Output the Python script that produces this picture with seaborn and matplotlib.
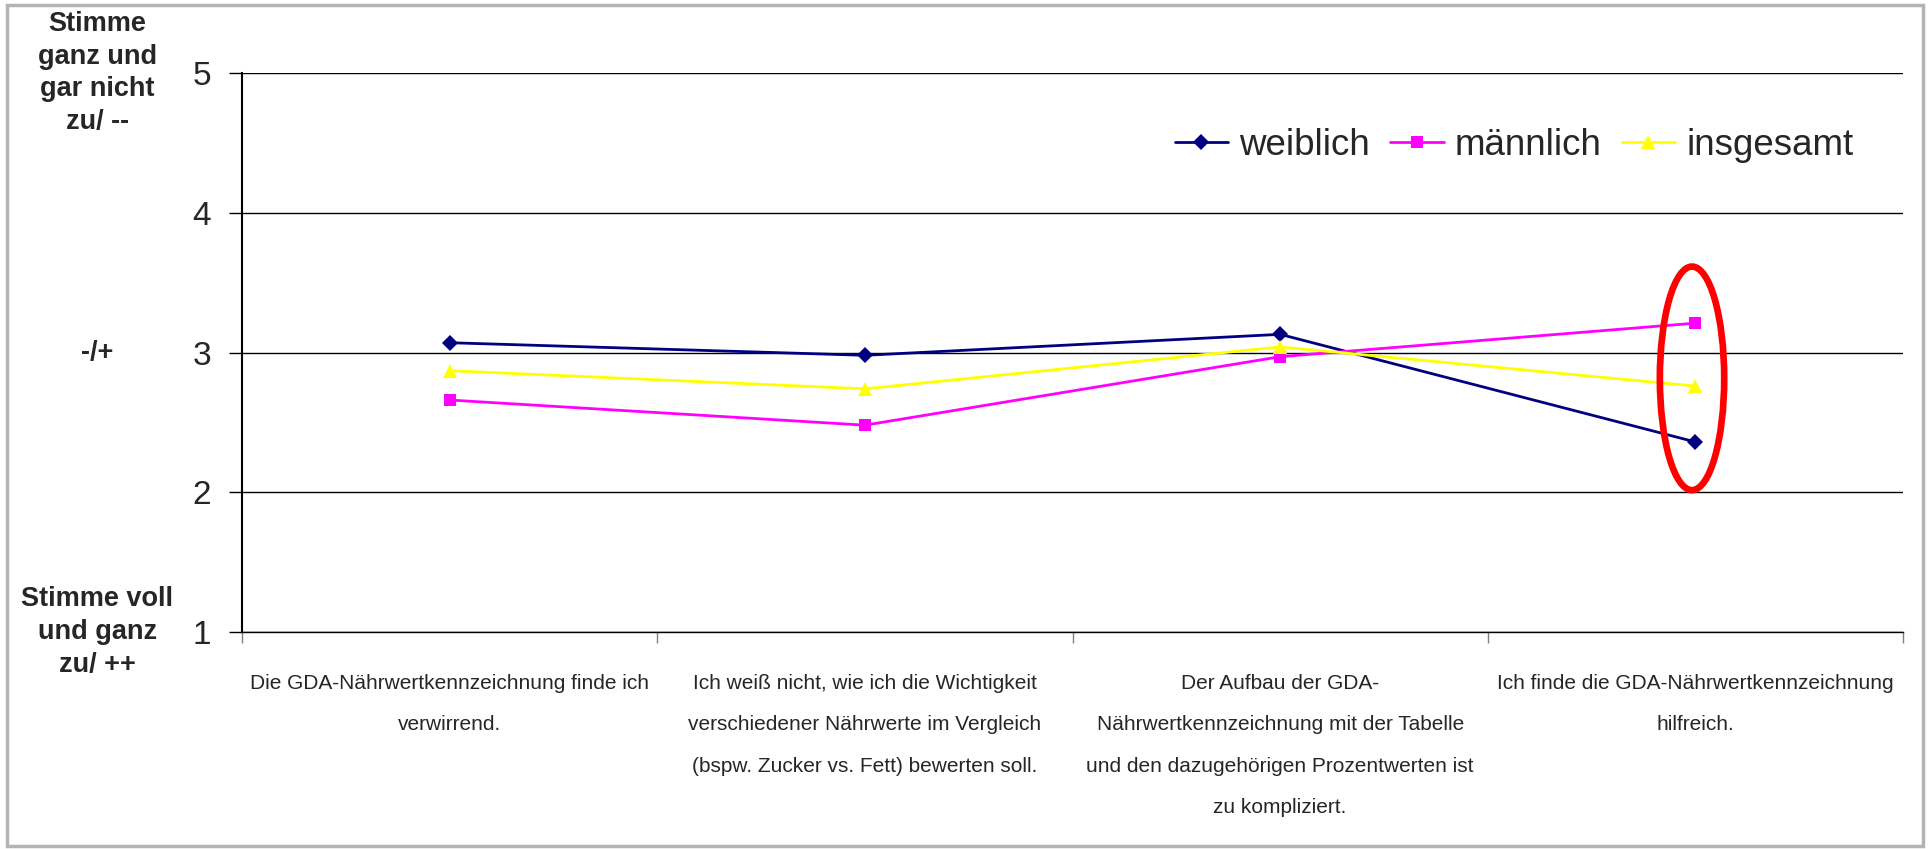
import matplotlib
matplotlib.use("Agg")
import matplotlib.pyplot as plt
import matplotlib.transforms as mtrans
from matplotlib.patches import Ellipse, Rectangle
import pandas as pd
import seaborn as sns

sns.set_theme(style="white")
plt.rcParams['font.family'] = ['Liberation Sans', 'DejaVu Sans']

# statements (x axis), wrapped like the original
categories = [
    "Die GDA-Nährwertkennzeichnung finde ich\nverwirrend.",
    "Ich weiß nicht, wie ich die Wichtigkeit\nverschiedener Nährwerte im Vergleich\n(bspw. Zucker vs. Fett) bewerten soll.",
    "Der Aufbau der GDA-\nNährwertkennzeichnung mit der Tabelle\nund den dazugehörigen Prozentwerten ist\nzu kompliziert.",
    "Ich finde die GDA-Nährwertkennzeichnung\nhilfreich.",
]
weiblich = [3.07, 2.98, 3.13, 2.36]
maennlich = [2.66, 2.48, 2.97, 3.21]
insgesamt = [2.87, 2.74, 3.04, 2.76]

series_names = ["weiblich", "männlich", "insgesamt"]
series_colors = ["#000080", "#FF00FF", "#FFFF00"]
series_markers = ["D", "s", "^"]
marker_sizes = [8.5, 9, 10]

y_ticks = [1, 2, 3, 4, 5]
scale_labels = {5: "Stimme\nganz und\ngar nicht\nzu/ --",
                3: "-/+",
                1: "Stimme voll\nund ganz\nzu/ ++"}
highlight_idx = 3  # last statement gets the red ring

df = pd.DataFrame({
    "pos": list(range(len(categories))) * 3,
    "wert": weiblich + maennlich + insgesamt,
    "gruppe": [n for n in series_names for _ in categories],
})

fig = plt.figure(figsize=(19.29, 8.49), dpi=100)
ax = fig.add_axes([0.1255, 0.2556, 0.861, 0.6584])

for name, col, mk, ms in zip(series_names, series_colors, series_markers, marker_sizes):
    sub = df[df["gruppe"] == name]
    sns.lineplot(data=sub, x="pos", y="wert", color=col, marker=mk, markersize=ms,
                 markeredgecolor=col, markeredgewidth=0, linewidth=2, label=name,
                 ax=ax, legend=False)

ax.set_xlim(-0.5, len(categories) - 0.5)
ax.set_ylim(1, 5)
ax.set_xlabel("")
ax.set_ylabel("")

# y axis
ax.set_yticks(y_ticks)
ax.set_yticklabels([str(t) for t in y_ticks], fontsize=24)
ax.tick_params(axis="y", direction="out", length=9.5, width=1, color="black", pad=13, left=True)
ax.yaxis.grid(True, color="black", linewidth=1)
ax.xaxis.grid(False)

# x axis: ticks between categories, labels centred on categories
ax.set_xticks([i - 0.5 for i in range(len(categories) + 1)])
ax.set_xticklabels([])
ax.tick_params(axis="x", which="major", direction="out", length=8, width=1, color="#808080", bottom=True)
ax.set_xticks(range(len(categories)), minor=True)
ax.set_xticklabels(categories, minor=True, fontsize=15, linespacing=2.5, ha="center")
ax.tick_params(axis="x", which="minor", length=0, pad=30)

for side in ["top", "right"]:
    ax.spines[side].set_visible(False)
ax.spines["left"].set_color("black")
ax.spines["left"].set_linewidth(1.5)
ax.spines["bottom"].set_color("black")
ax.spines["bottom"].set_linewidth(1)

# scale meaning next to the tick labels
blend = mtrans.blended_transform_factory(fig.transFigure, ax.transData)
for val, txt in scale_labels.items():
    ax.text(0.0505, val, txt, transform=blend, ha="center", va="center",
            fontsize=19.5, fontweight="bold", linespacing=1.33, clip_on=False)

# red ring around last statement
ax.add_patch(Ellipse((highlight_idx - 0.008, 2.815), width=0.155, height=1.6,
                     fill=False, edgecolor="#FF0000", linewidth=4.8, zorder=5, clip_on=False))

handles, labels = ax.get_legend_handles_labels()
fig.legend(handles, labels, loc="center left", bbox_to_anchor=(0.609, 0.829),
           ncol=3, frameon=False, fontsize=26.5, handlelength=1.45, handletextpad=0.3,
           columnspacing=0.55, borderpad=0, borderaxespad=0)

fig.patches.append(Rectangle((0.0036, 0.004), 0.9935, 0.99, transform=fig.transFigure,
                             fill=False, edgecolor="#b4b4b4", linewidth=2.5))

fig.savefig("out.png", dpi=100, facecolor="white")
